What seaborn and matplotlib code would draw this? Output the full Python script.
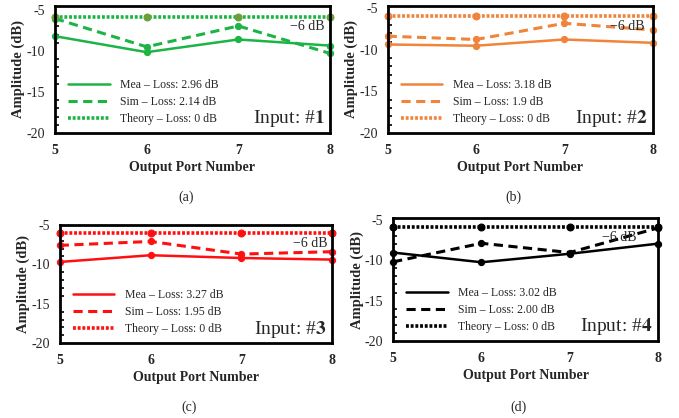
import pandas as pd
import numpy as np
import matplotlib
matplotlib.use("Agg")
import matplotlib.pyplot as plt
from matplotlib.ticker import MultipleLocator
import seaborn as sns

# Données
ports = [5, 6, 7, 8]

mea_1 = [-8.2, -10.15, -8.6, -9.35]
sim_1 = [-6.05, -9.5, -6.95, -10.3]
theory_1 = [-5.9, -5.9, -5.9, -5.9]

mea_2 = [-9.35, -9.5, -8.75, -9.15]
sim_2 = [-8.35, -8.75, -6.8, -7.6]
theory_2 = [-5.9, -5.9, -5.9, -5.9]

mea_3 = [-9.7, -8.85, -9.2, -9.4]
sim_3 = [-7.6, -7.1, -8.7, -8.4]
theory_3 = [-6.05, -6.05, -6.05, -6.05]

mea_4 = [-9.05, -10.25, -9.2, -7.95]
sim_4 = [-10.2, -7.9, -9.05, -6.0]
theory_4 = [-5.9, -5.9, -5.9, -5.9]

loss_labels = [
    ["Mea – Loss: 2.96 dB", "Sim – Loss: 2.14 dB", "Theory – Loss: 0 dB"],
    ["Mea – Loss: 3.18 dB", "Sim – Loss: 1.9 dB", "Theory – Loss: 0 dB"],
    ["Mea – Loss: 3.27 dB", "Sim – Loss: 1.95 dB", "Theory – Loss: 0 dB"],
    ["Mea – Loss: 3.02 dB", "Sim – Loss: 2.00 dB", "Theory – Loss: 0 dB"],
]
inputs = ["1", "2", "3", "4"]
captions = ["(a)", "(b)", "(c)", "(d)"]

sns.set_theme(style="white")
plt.rcParams["font.family"] = ["Liberation Serif", "DejaVu Serif"]
plt.rcParams["mathtext.fontset"] = "stix"
plt.rcParams["axes.unicode_minus"] = False

colors = ["#1db446", "#f0843a", "#ff1010", "#000000"]
theory_marker_colors = ["#6a9f3a", "#f0843a", "#ff1010", "#000000"]

panels = [
    (mea_1, sim_1, theory_1),
    (mea_2, sim_2, theory_2),
    (mea_3, sim_3, theory_3),
    (mea_4, sim_4, theory_4),
]

# positions des axes (fractions de la figure)
positions = [
    [0.081, 0.682, 0.405, 0.304],
    [0.571, 0.682, 0.390, 0.304],
    [0.088, 0.179, 0.401, 0.283],
    [0.579, 0.184, 0.390, 0.294],
]
ytops = [-4.5, -4.7, -5.0, -4.8]
six_db_x = [0.98, 0.97, 0.985, 0.92]
caption_y = [0.529, 0.529, 0.026, 0.026]

fig = plt.figure(figsize=(6.79, 4.18), dpi=100)

for i, (mea, sim, theory) in enumerate(panels):
    ax = fig.add_axes(positions[i])
    df = pd.DataFrame({
        "port": ports * 3,
        "amp": mea + sim + theory,
        "serie": [loss_labels[i][0]] * 4 + [loss_labels[i][1]] * 4 + [loss_labels[i][2]] * 4,
    })
    styles = [("-", 1.8, colors[i], 4.5),
              ((0, (3, 1.8)), 2.2, colors[i], 4.5),
              ((0, (0.8, 0.5)), 2.6, theory_marker_colors[i], 5)]
    for (ls, lw, mc, ms), lab in zip(styles, loss_labels[i]):
        sub = df[df["serie"] == lab]
        sns.lineplot(data=sub, x="port", y="amp", ax=ax, color=colors[i],
                     linestyle=ls, linewidth=lw, marker="o", markersize=ms,
                     markerfacecolor=mc, markeredgecolor=mc, label=lab, clip_on=False)
    ax.set_xlim(5, 8)
    ax.set_ylim(-20, ytops[i])
    ax.set_xticks(ports)
    ax.set_yticks([-5, -10, -15, -20])
    ax.yaxis.set_minor_locator(MultipleLocator(1))
    ax.tick_params(axis="both", which="both", direction="in", color="black")
    ax.tick_params(axis="y", which="major", length=4, width=1.2, labelsize=10, pad=7)
    ax.tick_params(axis="y", which="minor", length=3, width=1.2, left=True)
    ax.tick_params(axis="x", which="major", length=4, width=1, labelsize=10, pad=8)
    for lbl in ax.get_xticklabels():
        lbl.set_fontweight("bold")
    for sp in ax.spines.values():
        sp.set_linewidth(2)
        sp.set_color("black")
    ax.set_xlabel("Output Port Number", fontsize=10, fontweight="bold", labelpad=3)
    ax.set_ylabel("Amplitude (dB)", fontsize=10.5, fontweight="bold", labelpad=1)
    leg = ax.legend(loc="lower left", bbox_to_anchor=(0.01, -0.02), frameon=False,
                    fontsize=8.5, handlelength=3.5, handletextpad=0.9, labelspacing=0.4)
    for h in leg.legend_handles:
        h.set_marker("")
    ax.text(six_db_x[i], 0.84, "−6 dB", transform=ax.transAxes, ha="right", va="center", fontsize=10)
    ax.text(0.98, 0.03, "Input: #$\\mathbf{" + inputs[i] + "}$", transform=ax.transAxes,
            ha="right", va="bottom", fontsize=14)
    fig.text(positions[i][0] + positions[i][2] / 2 - 0.01, caption_y[i],
             captions[i], ha="center", va="center", fontsize=10)

fig.savefig("out.png", dpi=100)
